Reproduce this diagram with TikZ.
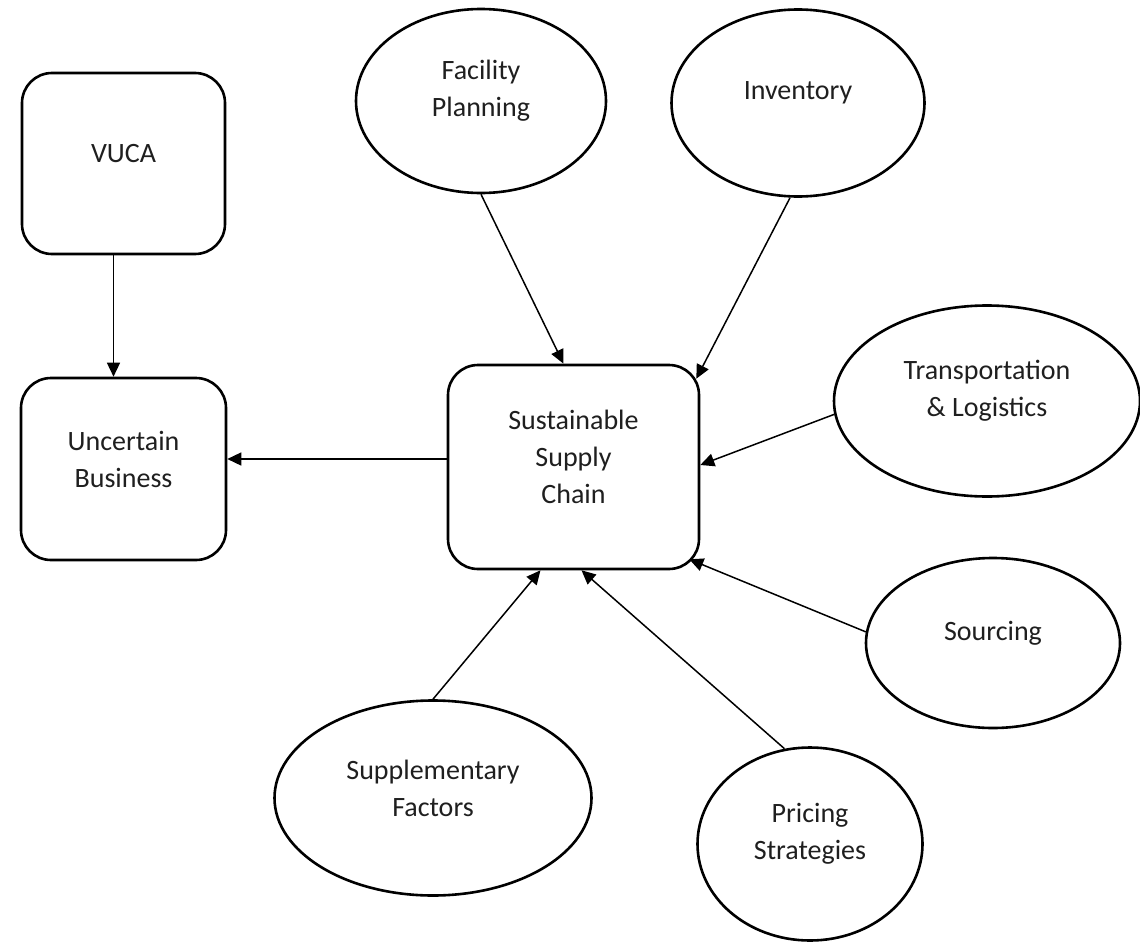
\documentclass[tikz,border=0pt]{standalone}
\usepackage{fontspec}
\setmainfont{Carlito}
\usetikzlibrary{shapes.geometric,arrows.meta}
\tikzset{
  base/.style={draw=black, line width=2.6pt, fill=white, inner sep=0pt},
  rbox/.style={base, rectangle, rounded corners=30pt},
  oval/.style={base, ellipse},
  txt/.style={align=center, font=\fontsize{28}{37}\selectfont, text=black!88},
  conn/.style={line width=1.5pt, -{Triangle[length=14pt,width=13pt]}},
}
\begin{document}
\begin{tikzpicture}[x=1pt,y=-1pt]
\useasboundingbox[fill=white] (0,0) rectangle (1140,942);
% boxes
\node[rbox, minimum width=203pt, minimum height=181pt,
  label={[txt,yshift=10pt]center:VUCA}] (vuca) at (123.5,163.5) {};
\node[rbox, minimum width=205pt, minimum height=182pt,
  label={[txt,yshift=10pt]center:Uncertain\\Business}] (ub) at (123.5,469) {};
\node[rbox, minimum width=251pt, minimum height=204pt,
  label={[txt,yshift=10pt]center:Sustainable\\Supply\\Chain}] (ssc) at (573.5,467) {};
% ellipses
\node[oval, minimum width=250pt, minimum height=184pt,
  label={[txt,yshift=10pt]center:Facility\\Planning}] (fp) at (481,101) {};
\node[oval, minimum width=253pt, minimum height=187pt,
  label={[txt,yshift=10pt]center:Inventory}] (inv) at (798,103) {};
\node[oval, minimum width=306pt, minimum height=191pt,
  label={[txt,yshift=10pt]center:Transportation\\\&~Logistics}] (tl) at (987,401) {};
\node[oval, minimum width=254pt, minimum height=170pt,
  label={[txt,yshift=10pt]center:Sourcing}] (src) at (993,643) {};
\node[oval, minimum width=317pt, minimum height=195pt,
  label={[txt,yshift=10pt]center:Supplementary\\Factors}] (sup) at (433,798) {};
\node[oval, minimum width=225pt, minimum height=193pt,
  label={[txt,yshift=10pt]center:Pricing\\Strategies}] (pr) at (810,844) {};
% connectors
\draw[conn] ([xshift=-10pt]vuca.south) -- ([xshift=-10pt]ub.north);
\draw[conn] ([yshift=8pt]ssc.west) -- ([yshift=8pt]ssc.west -| ub.east);
\draw[conn] (fp.south) -- ([xshift=-10pt]ssc.north);
\draw[conn] ([xshift=-8pt]inv.south) -- ([xshift=-4pt,yshift=-15pt]ssc.north east);
\draw[conn] (tl.185) -- ([yshift=2pt]ssc.east);
\draw[conn] (src.175) -- ([xshift=-11pt,yshift=11pt]ssc.south east);
\draw[conn] (sup.north) -- ([xshift=-33pt]ssc.south);
\draw[conn] (pr.105) -- ([xshift=8pt]ssc.south);
\end{tikzpicture}
\end{document}
